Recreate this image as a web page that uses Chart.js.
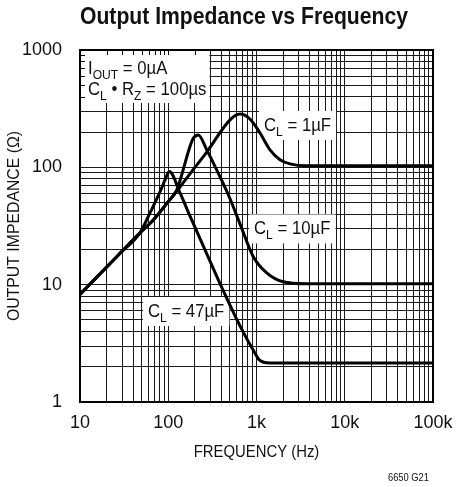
<!DOCTYPE html>
<html>
<head>
<meta charset="utf-8">
<script src="https://cdn.jsdelivr.net/npm/chart.js@4.4.1/dist/chart.umd.min.js"></script>
<style>
html, body { margin: 0; padding: 0; background: #fff; }
</style>
</head>
<body>
<canvas id="chart" width="466" height="487"></canvas>
<script>
var FONT = "'Liberation Sans', Arial, sans-serif";
var SX = 0.93; // horizontal squeeze to get the narrow look of the original lettering

// values (frequency in Hz, impedance in ohm)
var freq1uF = [10, 16.9, 28.4, 47.8, 67.7, 100, 136, 176, 273, 501, 650, 843, 1096, 1422, 1845, 2394, 3700, 100000];
var z1uF    = [8.25, 12.4, 18.5, 27.6, 35.6, 51, 68, 88, 135, 254, 285, 258, 196, 141, 116, 107, 103, 103];

var freq10uF = [10, 16.9, 28.4, 47.8, 67.7, 100, 124.7, 176, 192, 219, 273, 386, 501, 650, 920, 1305, 1997, 3700, 100000];
var z10uF    = [8.25, 12.4, 18.5, 27.6, 35.6, 51, 64, 150, 177, 189, 141, 83, 54, 33, 17.3, 12.6, 10.6, 10.2, 10.2];

var freq47uF = [10, 16.9, 28.4, 47.8, 62.1, 80.6, 91.9, 102.8, 136, 176, 261, 386, 650, 962, 1067, 1422, 100000];
var z47uF    = [8.25, 12.4, 18.5, 27.6, 40.9, 61.7, 78, 92, 60.5, 38.5, 19.8, 10.2, 4.45, 2.6, 2.3, 2.15, 2.15];

var xTicks = [10, 20, 30, 40, 50, 60, 70, 80, 90,
              100, 200, 300, 400, 500, 600, 700, 800, 900,
              1000, 2000, 3000, 4000, 5000, 6000, 7000, 8000, 9000,
              10000, 20000, 30000, 40000, 50000, 60000, 70000, 80000, 90000, 100000];
var xTickLabels = { 10: '10', 100: '100', 1000: '1k', 10000: '10k', 100000: '100k' };

var yTicks = [1, 2, 3, 4, 5, 6, 7, 8, 9,
              10, 20, 30, 40, 50, 60, 70, 80, 90,
              100, 200, 300, 400, 500, 600, 700, 800, 900, 1000];
var yTickLabels = { 1: '1', 10: '10', 100: '100', 1000: '1000' };

// curve labels: text parts [text, isSub], anchored at text left / baseline (freq, ohm)
var curveLabels = [
    { parts: [['C', 0], ['L', 1], [' = 1\u00b5F', 0]], f: 1216, z: 204 },
    { parts: [['C', 0], ['L', 1], [' = 10\u00b5F', 0]], f: 937, z: 26.8 },
    { parts: [['C', 0], ['L', 1], [' = 47\u00b5F', 0]], f: 58.9, z: 5.3 }
];
var noteLines = [
    [['I', 0], ['OUT', 1], [' = 0\u00b5A', 0]],
    [['C', 0], ['L', 1], [' \u2022 R', 0], ['Z', 1], [' = 100\u00b5s', 0]]
];

function makePoints(fs, zs) {
    return fs.map(function (f, i) { return { x: f, y: zs[i] }; });
}

function richWidth(ctx, parts) {
    var w = 0;
    parts.forEach(function (p) {
        ctx.font = (p[1] ? '13px ' : '18px ') + FONT;
        w += ctx.measureText(p[0]).width * SX;
    });
    return w;
}

function drawText(ctx, text, x, y, font, align, sx) {
    ctx.save();
    ctx.translate(x, y);
    ctx.scale(sx, 1);
    ctx.font = font;
    ctx.textAlign = align;
    ctx.fillText(text, 0, 0);
    ctx.restore();
}

function drawRich(ctx, parts, x, y) {
    ctx.textBaseline = 'alphabetic';
    parts.forEach(function (p) {
        var f = (p[1] ? '13px ' : '18px ') + FONT;
        drawText(ctx, p[0], x, p[1] ? y + 5 : y, f, 'left', SX);
        ctx.font = f;
        x += ctx.measureText(p[0]).width * SX;
    });
}

var decor = {
    id: 'decor',
    beforeDatasetsDraw: function (chart) {
        var ctx = chart.ctx;
        var xs = chart.scales.x, ys = chart.scales.y;
        var area = chart.chartArea;
        ctx.save();

        // note box in top-left corner
        var nx = area.left + 8;
        var b1 = area.top + 24, b2 = area.top + 45;
        var nw = Math.max(richWidth(ctx, noteLines[0]), richWidth(ctx, noteLines[1]));
        var boxR = nx + nw + 3, boxB = b2 + 8;
        ctx.fillStyle = '#fff';
        ctx.fillRect(area.left, area.top, boxR - area.left, boxB - area.top);
        ctx.strokeStyle = '#000';
        ctx.lineWidth = 1;
        ctx.beginPath();
        yTicks.forEach(function (v) {
            var py = Math.round(ys.getPixelForValue(v)) + 0.5;
            if (py > area.top + 2 && py < boxB) { ctx.moveTo(area.left, py); ctx.lineTo(area.left + 5, py); }
        });
        xTicks.forEach(function (v) {
            var px = Math.round(xs.getPixelForValue(v)) + 0.5;
            if (px > area.left + 2 && px < boxR) { ctx.moveTo(px, area.top); ctx.lineTo(px, area.top + 5); }
        });
        ctx.stroke();
        ctx.fillStyle = '#111';
        drawRich(ctx, noteLines[0], nx, b1);
        drawRich(ctx, noteLines[1], nx, b2);

        // curve labels on white boxes
        curveLabels.forEach(function (lb) {
            var lx = xs.getPixelForValue(lb.f);
            var ly = ys.getPixelForValue(lb.z);
            var w = richWidth(ctx, lb.parts);
            ctx.fillStyle = '#fff';
            ctx.fillRect(lx - 5, ly - 20, w + 10, 29);
            ctx.fillStyle = '#111';
            drawRich(ctx, lb.parts, lx, ly);
        });

        // frame
        ctx.strokeStyle = '#000';
        ctx.lineWidth = 2;
        ctx.strokeRect(area.left, area.top, area.right - area.left, area.bottom - area.top);
        ctx.restore();
    },
    afterDraw: function (chart) {
        var ctx = chart.ctx;
        var area = chart.chartArea;
        ctx.save();
        ctx.fillStyle = '#111';
        ctx.textBaseline = 'alphabetic';
        drawText(ctx, 'Output Impedance vs Frequency', 244, 24, 'bold 23px ' + FONT, 'center', 0.92);
        drawText(ctx, 'FREQUENCY (Hz)', (area.left + area.right) / 2, 457, '16px ' + FONT, 'center', SX);
        drawText(ctx, '6650 G21', 429, 481, '11px ' + FONT, 'right', 0.85);
        // rotated y title
        ctx.translate(14, (area.top + area.bottom) / 2);
        ctx.rotate(-Math.PI / 2);
        ctx.textBaseline = 'middle';
        drawText(ctx, 'OUTPUT IMPEDANCE (\u03a9)', 0, 0, '17px ' + FONT, 'center', SX);
        ctx.restore();
    }
};

var lineStyle = {
    borderColor: '#000',
    borderWidth: 3,
    pointRadius: 0,
    fill: false,
    cubicInterpolationMode: 'monotone'
};

var chart = new Chart(document.getElementById('chart').getContext('2d'), {
    type: 'line',
    data: {
        datasets: [
            Object.assign({ label: 'CL = 1uF', data: makePoints(freq1uF, z1uF) }, lineStyle),
            Object.assign({ label: 'CL = 10uF', data: makePoints(freq10uF, z10uF) }, lineStyle),
            Object.assign({ label: 'CL = 47uF', data: makePoints(freq47uF, z47uF) }, lineStyle)
        ]
    },
    options: {
        responsive: false,
        animation: false,
        layout: { padding: { left: 0, right: 33, top: 50, bottom: 0 } },
        plugins: { legend: { display: false }, tooltip: { enabled: false }, title: { display: false } },
        scales: {
            x: {
                type: 'logarithmic',
                min: 10,
                max: 100000,
                afterBuildTicks: function (scale) {
                    scale.ticks = xTicks.map(function (v) { return { value: v }; });
                },
                afterFit: function (scale) { scale.height = 85; },
                grid: { color: '#1a1a1a', lineWidth: 1, drawTicks: false },
                border: { display: false },
                ticks: {
                    autoSkip: false,
                    maxRotation: 0,
                    padding: 10,
                    color: '#111',
                    font: { family: FONT, size: 18 },
                    callback: function (v) { return xTickLabels[v] || ''; }
                }
            },
            y: {
                type: 'logarithmic',
                min: 1,
                max: 1000,
                afterBuildTicks: function (scale) {
                    scale.ticks = yTicks.map(function (v) { return { value: v }; });
                },
                afterFit: function (scale) { scale.width = 80; },
                grid: { color: '#1a1a1a', lineWidth: 1, drawTicks: false },
                border: { display: false },
                ticks: {
                    autoSkip: false,
                    padding: 18,
                    color: '#111',
                    font: { family: FONT, size: 18 },
                    callback: function (v) { return yTickLabels[v] || ''; }
                }
            }
        }
    },
    plugins: [decor]
});
</script>
</body>
</html>
